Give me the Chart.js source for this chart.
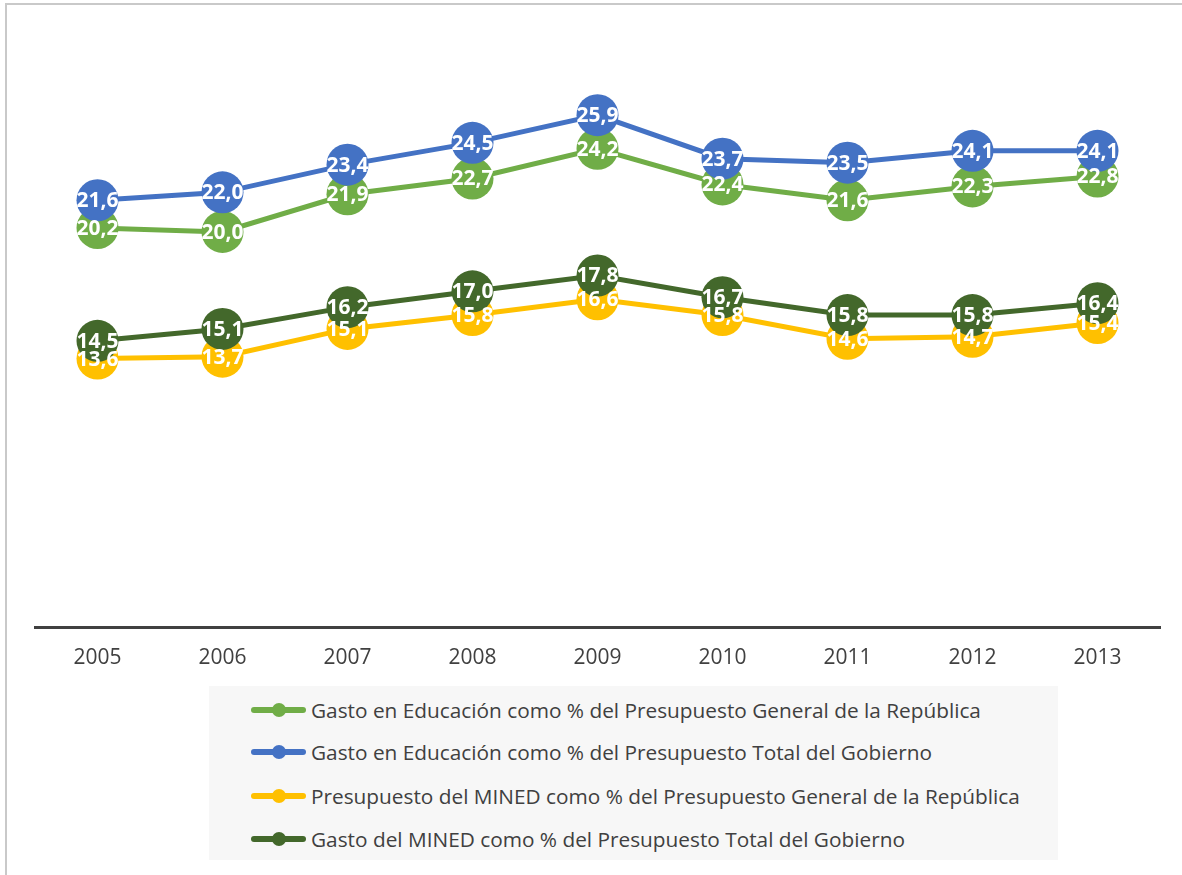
<!DOCTYPE html>
<html>
<head>
<meta charset="utf-8">
<script src="https://cdn.jsdelivr.net/npm/chart.js@4.4.1/dist/chart.umd.min.js"></script>
<style>
  html, body { margin: 0; padding: 0; background: #fff; overflow: hidden; }
  body { width: 1182px; height: 875px; position: relative; font-family: "Open Sans", sans-serif; }
  #marco { position: absolute; left: 5px; top: 3px; width: 1400px; height: 1000px; border: 2px solid #c9c9c9; }
  #caja { position: absolute; left: 0; top: 0; width: 1182px; height: 694px; }
  #leyenda { position: absolute; left: 209px; top: 686px; width: 849px; height: 174px; background: #f7f7f7; }
  .item { position: absolute; left: 42px; height: 30px; display: flex; align-items: center; font-size: 20.8px; color: #404040; white-space: nowrap; }
  .marca { position: relative; width: 55px; height: 6px; border-radius: 3px; margin-right: 5px; }
  .marca span { position: absolute; left: 21px; top: -4px; width: 14px; height: 14px; border-radius: 50%; }
</style>
</head>
<body>
<div id="marco"></div>
<div id="caja"><canvas id="grafico"></canvas></div>
<div id="leyenda"></div>
<script>
  // Datos
  const anios = ['2005', '2006', '2007', '2008', '2009', '2010', '2011', '2012', '2013'];
  const gastoEduPGR = [20.2, 20.0, 21.9, 22.7, 24.2, 22.4, 21.6, 22.3, 22.8];
  const gastoEduPTG = [21.6, 22.0, 23.4, 24.5, 25.9, 23.7, 23.5, 24.1, 24.1];
  const presMinedPGR = [13.6, 13.7, 15.1, 15.8, 16.6, 15.8, 14.6, 14.7, 15.4];
  const gastoMinedPTG = [14.5, 15.1, 16.2, 17.0, 17.8, 16.7, 15.8, 15.8, 16.4];

  const series = [
    { nombre: 'Gasto en Educación como % del Presupuesto General de la República', datos: gastoEduPGR, color: '#70ad47' },
    { nombre: 'Gasto en Educación como % del Presupuesto Total del Gobierno', datos: gastoEduPTG, color: '#4472c4' },
    { nombre: 'Presupuesto del MINED como % del Presupuesto General de la República', datos: presMinedPGR, color: '#ffc000' },
    { nombre: 'Gasto del MINED como % del Presupuesto Total del Gobierno', datos: gastoMinedPTG, color: '#43682b' }
  ];

  // Etiquetas blancas dentro de cada punto
  const etiquetasPlugin = {
    id: 'etiquetas',
    afterDatasetsDraw(chart) {
      const ctx = chart.ctx;
      ctx.save();
      ctx.fillStyle = '#ffffff';
      ctx.font = 'bold 21px "Open Sans"';
      ctx.textAlign = 'center';
      ctx.textBaseline = 'middle';
      chart.data.datasets.forEach((ds, i) => {
        const meta = chart.getDatasetMeta(i);
        meta.data.forEach((pt, j) => {
          const txt = ds.data[j].toFixed(1).replace('.', ',');
          ctx.fillText(txt, pt.x, pt.y + 1);
        });
      });
      ctx.restore();
    }
  };

  const ctx = document.getElementById('grafico').getContext('2d');
  new Chart(ctx, {
    type: 'line',
    data: {
      labels: anios,
      datasets: series.map((s, i) => ({
        label: s.nombre,
        data: s.datos,
        borderColor: s.color,
        backgroundColor: s.color,
        pointBackgroundColor: s.color,
        pointBorderWidth: 0,
        pointRadius: 21,
        pointHoverRadius: 21,
        borderWidth: 5,
        tension: 0,
        order: series.length - 1 - i
      }))
    },
    options: {
      responsive: true,
      maintainAspectRatio: false,
      animation: false,
      layout: { padding: { left: 35, right: 22, top: 34, bottom: 5 } },
      plugins: {
        legend: { display: false },
        tooltip: { enabled: false }
      },
      scales: {
        y: { display: false, min: 0, max: 30 },
        x: {
          offset: true,
          grid: { display: false, drawTicks: false, offset: true },
          border: { display: true, color: '#404040', width: 3 },
          ticks: { color: '#404040', font: { family: 'Open Sans', size: 21 }, padding: 18 }
        }
      }
    },
    plugins: [etiquetasPlugin]
  });

  // Leyenda en HTML
  const leyenda = document.getElementById('leyenda');
  const filas = [9, 51, 95, 138];
  series.forEach((s, i) => {
    const div = document.createElement('div');
    div.className = 'item';
    div.style.top = filas[i] + 'px';
    div.innerHTML = `<div class="marca" style="background:${s.color}"><span style="background:${s.color}"></span></div>${s.nombre}`;
    leyenda.appendChild(div);
  });
</script>
</body>
</html>
